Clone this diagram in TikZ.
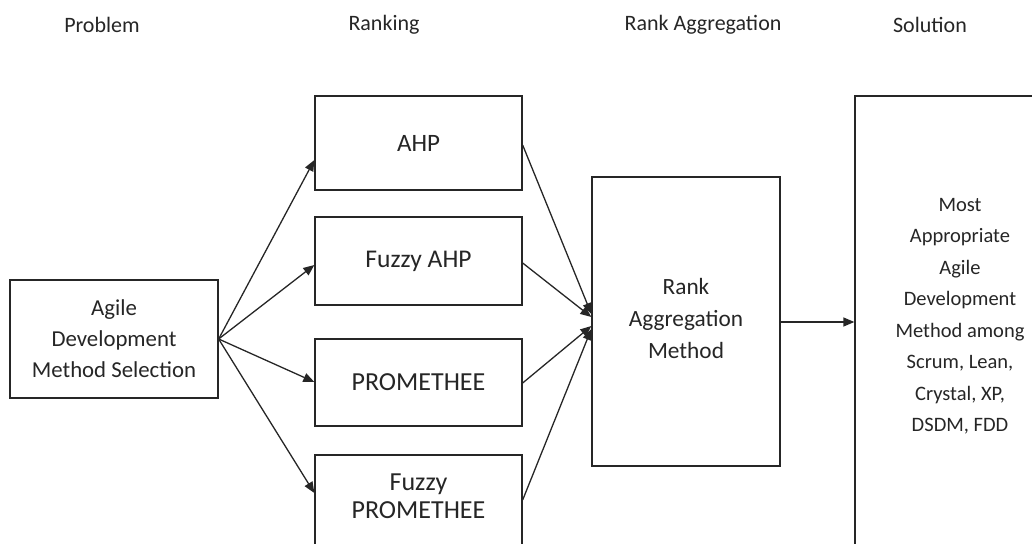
\documentclass[tikz,border=0pt]{standalone}
\usepackage{fontspec}
\setmainfont{Carlito}
\usetikzlibrary{arrows.meta}
\begin{document}
\begin{tikzpicture}[x=1pt,y=-1pt,
  box/.style={draw=black!85, line width=1.3pt, fill=white, align=center, inner sep=0pt, text=black!85},
  txt/.style={align=center, text=black!85, inner sep=0pt},
  head/.style={font=\fontsize{22}{26}\selectfont, text=black!85, inner sep=0pt},
  conn/.style={line width=1.3pt, draw=black!85, -{Triangle[length=11pt,width=9pt]}}]
\useasboundingbox (0,0) rectangle (1032,543);
\clip (0,0) rectangle (1032,543);
% headers
\node[head] (h1) at (102,25) {Problem};
\node[head] (h2) at (384,25) {Ranking};
\node[head] (h3) at (703,25) {Rank Aggregation};
\node[head] (h4) at (930,25) {Solution};
% boxes
\node[box, minimum width=208pt, minimum height=118pt, font=\fontsize{22.8}{31}\selectfont] (agile) at (114,339)
  {Agile\\Development\\Method Selection};
\node[box, minimum width=207pt, minimum height=94pt, font=\fontsize{25}{30}\selectfont] (ahp) at (418.5,143) {AHP};
\node[box, minimum width=207pt, minimum height=88pt, font=\fontsize{25.5}{30}\selectfont] (fahp) at (418.5,261) {Fuzzy AHP};
\node[box, minimum width=207pt, minimum height=87pt, font=\fontsize{26}{30}\selectfont] (prom) at (418.5,382.5) {PROMETHEE};
\node[box, minimum width=207pt, minimum height=93pt] (fprom) at (418.5,501.5) {};
\node[txt, font=\fontsize{26}{28}\selectfont] (fpromt) at (418.5,496) {Fuzzy\\PROMETHEE};
\node[box, minimum width=188pt, minimum height=289pt] (rank) at (686,321.5) {};
\node[txt, font=\fontsize{23.3}{32}\selectfont] (rankt) at (686,318) {Rank\\Aggregation\\Method};
\node[box, minimum width=210pt, minimum height=470pt] (sol) at (960,331) {};
\node[txt, font=\fontsize{20.5}{31.5}\selectfont] (solt) at (960,316)
  {Most\\Appropriate\\Agile\\Development\\Method among\\Scrum, Lean,\\Crystal, XP,\\DSDM, FDD};
% connectors
\coordinate (src) at (agile.east);
\draw[conn] (src) -- (ahp.west |- 0,160);
\draw[conn] (src) -- (fahp.west |- 0,265);
\draw[conn] (src) -- (prom.west |- 0,382);
\draw[conn] (src) -- (fprom.west |- 0,493);
\draw[conn] (ahp.east |- 0,145) -- (rank.west |- 0,314);
\draw[conn] (fahp.east |- 0,263) -- (rank.west |- 0,317);
\draw[conn] (prom.east |- 0,383) -- (rank.west |- 0,326);
\draw[conn] (fprom.east |- 0,500) -- (rank.west |- 0,329);
\draw[conn] (rank.east |- 0,322) -- (sol.west |- 0,322);
\end{tikzpicture}
\end{document}
